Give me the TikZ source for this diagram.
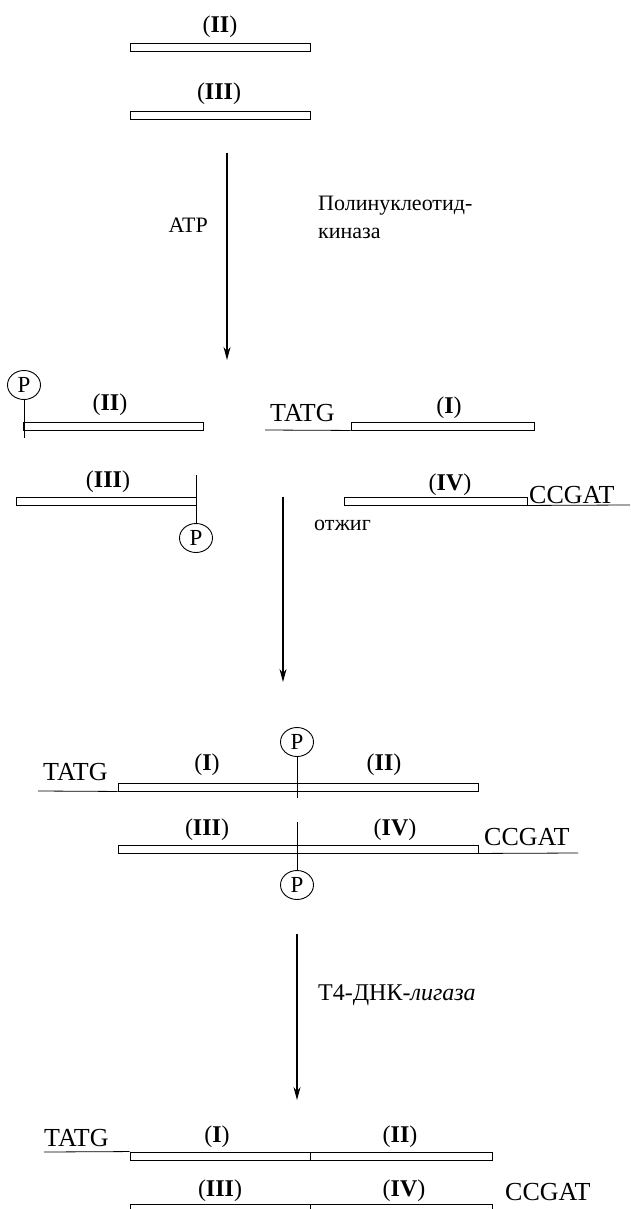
\documentclass[tikz,border=0pt]{standalone}
\usepackage{fontspec}
\setmainfont{Liberation Serif}
\usetikzlibrary{arrows.meta,shapes.geometric}

\begin{document}
\begin{tikzpicture}[x=1pt,y=-1pt,
  strand/.style={draw=black, line width=0.9pt, fill=white, rectangle,
    inner sep=0pt, minimum height=8pt},
  thinline/.style={draw=black, line width=0.8pt},
  flow/.style={draw=black, line width=1.1pt, -{Stealth[length=13pt,width=7pt]}},
  lbl/.style={font=\fontsize{24}{26}\selectfont, inner sep=0pt, anchor=base},
  seq/.style={font=\fontsize{26}{28}\selectfont, inner sep=0pt},
  note/.style={font=\fontsize{22}{27}\selectfont, inner sep=0pt, align=left},
  phos/.style={draw, ellipse, line width=0.9pt, minimum width=33pt,
    minimum height=29pt, inner sep=0pt, font=\fontsize{23}{24}\selectfont}
]
\useasboundingbox (0,0) rectangle (630,1209);

% ---------- starting oligonucleotides ----------
\node[lbl] (l2a) at (220,33) {(\textbf{II})};
\node[strand, minimum width=180pt] (s2a) at (220,47.5) {};
\node[lbl] (l3a) at (219,100) {(\textbf{III})};
\node[strand, minimum width=180pt] (s3a) at (220,115.5) {};

% ---------- kinase step ----------
\coordinate (a1s) at (227,153);
\coordinate (a1e) at (227,360);
\draw[flow] (a1s) -- (a1e);
\node[note, anchor=base east] (atp) at (208,232) {ATP};
\node[note, anchor=base west] (kin) at (318,211) {Полинуклеотид-};
\node[note, anchor=base west] (kin2) at (318,238) {киназа};

% ---------- phosphorylated fragments ----------
\node[phos] (p1) at (24,385) {P};
\node[strand, minimum width=180pt] (s2b) at (113,426) {};
\coordinate (p1e) at (24,438);
\draw[thinline] (p1) -- (p1e);
\node[lbl] (l2b) at (110,410) {(\textbf{II})};

\node[seq, anchor=base west] (t1) at (270,421) {TATG};
\node[strand, minimum width=183pt] (s1b) at (442.5,426) {};
\coordinate (t1s) at (265,430);
\draw[thinline] (t1s) -- (s1b.south west);
\node[lbl] (l1b) at (449,413) {(\textbf{I})};

\node[lbl] (l3b) at (108,487) {(\textbf{III})};
\node[strand, minimum width=180pt] (s3b) at (106,501) {};
\node[phos] (p2) at (196,538) {P};
\coordinate (p2e) at (196,475);
\draw[thinline] (p2e) -- (p2);

\node[lbl] (l4b) at (450,490) {(\textbf{IV})};
\node[strand, minimum width=183pt] (s4b) at (435.5,501) {};
\node[seq, anchor=base west] (c1) at (529,503) {CCGAT};
\coordinate (c1e) at (630,505);
\draw[thinline] (s4b.south east) -- (c1e);

% ---------- annealing step ----------
\coordinate (a2s) at (283,497);
\coordinate (a2e) at (283,682);
\draw[flow] (a2s) -- (a2e);
\node[note, anchor=base west] (ann) at (314,530) {отжиг};

% ---------- annealed duplex ----------
\node[phos] (p3) at (297,742) {P};
\node[strand, minimum width=360pt] (s12c) at (298,787) {};
\coordinate (p3e) at (297,798);
\draw[thinline] (p3) -- (p3e);
\node[seq, anchor=base west] (t2) at (43,780) {TATG};
\coordinate (t2s) at (38,791);
\draw[thinline] (t2s) -- (s12c.south west);
\node[lbl] (l1c) at (207,770) {(\textbf{I})};
\node[lbl] (l2c) at (384,770) {(\textbf{II})};

\node[lbl] (l3c) at (207,835) {(\textbf{III})};
\node[lbl] (l4c) at (395,835) {(\textbf{IV})};
\node[strand, minimum width=360pt] (s34c) at (298,849) {};
\node[phos] (p4) at (297,885) {P};
\coordinate (p4s) at (297,822);
\draw[thinline] (p4s) -- (p4);
\node[seq, anchor=base west] (c2) at (484,845) {CCGAT};
\coordinate (c2e) at (578,853);
\draw[thinline] (s34c.south east) -- (c2e);

% ---------- ligation step ----------
\coordinate (a3s) at (297,934);
\coordinate (a3e) at (297,1100);
\draw[flow] (a3s) -- (a3e);
\node[note, anchor=base west, font=\fontsize{24}{27}\selectfont] (lig) at (318,1000)
  {Т4-ДНК-\textit{лигаза}};

% ---------- ligated product ----------
\node[seq, anchor=base west] (t3) at (44,1146) {TATG};
\node[strand, minimum width=180pt] (s1d) at (220,1156) {};
\node[strand, minimum width=182pt] (s2d) at (401,1156) {};
\coordinate (t3s) at (44,1152);
\draw[thinline] (t3s) -- (s1d.north west);
\node[lbl] (l1d) at (217,1142) {(\textbf{I})};
\node[lbl] (l2d) at (400,1142) {(\textbf{II})};

\node[lbl] (l3d) at (220,1196) {(\textbf{III})};
\node[lbl] (l4d) at (404,1196) {(\textbf{IV})};
\node[seq, anchor=base west] (c3) at (505,1200) {CCGAT};
\node[strand, minimum width=180pt] (s3d) at (220,1208) {};
\node[strand, minimum width=182pt] (s4d) at (401,1208) {};
\end{tikzpicture}
\end{document}
